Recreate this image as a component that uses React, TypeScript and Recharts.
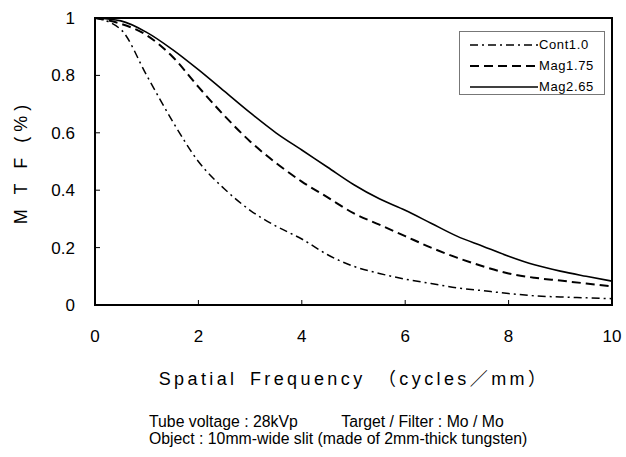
import React from "react";
import { LineChart, Line, XAxis, YAxis, ReferenceArea, Legend } from "recharts";

const freq = [0, 0.5, 1, 1.5, 2, 2.5, 3, 3.5, 4, 4.5, 5, 5.5, 6, 6.5, 7, 7.5, 8, 8.5, 9, 9.5, 10];
const cont10 = [1.0, 0.96, 0.8, 0.64, 0.5, 0.405, 0.33, 0.275, 0.23, 0.175, 0.135, 0.11, 0.09, 0.075, 0.06, 0.05, 0.04, 0.032, 0.028, 0.025, 0.022];
const mag175 = [1.0, 0.98, 0.94, 0.865, 0.76, 0.66, 0.57, 0.495, 0.43, 0.375, 0.32, 0.28, 0.24, 0.2, 0.165, 0.135, 0.11, 0.095, 0.085, 0.075, 0.065];
const mag265 = [1.0, 0.99, 0.95, 0.89, 0.82, 0.745, 0.67, 0.6, 0.54, 0.48, 0.42, 0.37, 0.33, 0.285, 0.24, 0.205, 0.17, 0.14, 0.118, 0.1, 0.083];

const xTicks = [0, 2, 4, 6, 8, 10];
const yTicks = [0, 0.2, 0.4, 0.6, 0.8, 1];

const seriesInfo = [
  { key: "cont10", name: "Cont1.0", dash: "8 4 2 4", width: 1.5 },
  { key: "mag175", name: "Mag1.75", dash: "9 5", width: 2 },
  { key: "mag265", name: "Mag2.65", dash: undefined, width: 1.6 },
];

const data = freq.map((f, i) => ({
  freq: f,
  cont10: cont10[i],
  mag175: mag175[i],
  mag265: mag265[i],
}));

const font = "'Liberation Sans', Arial, 'Noto Sans CJK JP', sans-serif";

function LegendBox() {
  return (
    <div
      style={{
        border: "1px solid #777",
        background: "#fff",
        width: 146,
        height: 64,
        boxSizing: "border-box",
        padding: "2px 0 0 10px",
        fontFamily: font,
        fontSize: 13,
      }}
    >
      {seriesInfo.map((s) => (
        <div key={s.key} style={{ display: "flex", alignItems: "center", height: 21 }}>
          <svg width={68} height={8}>
            <line x1={0} y1={4} x2={68} y2={4} stroke="#000" strokeWidth={s.width} strokeDasharray={s.dash} />
          </svg>
          <span style={{ marginLeft: 1, letterSpacing: 0.6 }}>{s.name}</span>
        </div>
      ))}
    </div>
  );
}

export default function App() {
  return (
    <div style={{ position: "absolute", left: 0, top: 0, width: 626, height: 457, background: "#fff" }}>
      <LineChart
        width={626}
        height={457}
        data={data}
        margin={{ top: 18, right: 14, left: 0, bottom: 112 }}
      >
        <XAxis
          dataKey="freq"
          type="number"
          domain={[0, 10]}
          ticks={xTicks}
          axisLine={false}
          tickSize={-5}
          tickMargin={30}
          height={40}
          tick={{ fill: "#000", fontSize: 17, fontFamily: font }}
          tickLine={{ stroke: "#000" }}
          interval={0}
        />
        <YAxis
          type="number"
          domain={[0, 1]}
          ticks={yTicks}
          width={95}
          axisLine={false}
          tickSize={-5}
          tickMargin={25}
          tick={{ fill: "#000", fontSize: 17, fontFamily: font }}
          tickLine={{ stroke: "#000" }}
          interval={0}
        />
        <ReferenceArea x1={0} x2={10} y1={0} y2={1} fill="none" stroke="#000" strokeWidth={2} fillOpacity={0} />
        {seriesInfo.map((s) => (
          <Line
            key={s.key}
            dataKey={s.key}
            name={s.name}
            type="monotone"
            stroke="#000"
            strokeWidth={s.width}
            strokeDasharray={s.dash}
            dot={false}
            activeDot={false}
            isAnimationActive={false}
          />
        ))}
        <Legend
          layout="vertical"
          verticalAlign="middle"
          align="center"
          wrapperStyle={{ position: "absolute", top: 31, left: 459, width: 146 }}
          content={() => <LegendBox />}
        />
      </LineChart>
      <div
        style={{
          position: "absolute",
          left: 10,
          top: 162,
          transform: "translate(-50%, -50%) rotate(-90deg)",
          transformOrigin: "center",
          marginLeft: 11,
          whiteSpace: "nowrap",
          fontFamily: font,
          fontSize: 18,
          letterSpacing: 5,
        }}
      >
        M T F (%)
      </div>
      <div
        style={{
          position: "absolute",
          left: 354,
          top: 364,
          transform: "translateX(-50%)",
          whiteSpace: "nowrap",
          fontFamily: font,
          fontSize: 18,
          letterSpacing: 3.4,
          wordSpacing: 4,
        }}
      >
        Spatial Frequency （cycles／mm）
      </div>
      <div
        style={{
          position: "absolute",
          left: 149,
          top: 413,
          fontFamily: font,
          fontSize: 15.8,
          lineHeight: "17px",
          whiteSpace: "pre",
        }}
      >
        {"Tube voltage : 28kVp          Target / Filter : Mo / Mo\nObject : 10mm-wide slit (made of 2mm-thick tungsten)"}
      </div>
    </div>
  );
}
